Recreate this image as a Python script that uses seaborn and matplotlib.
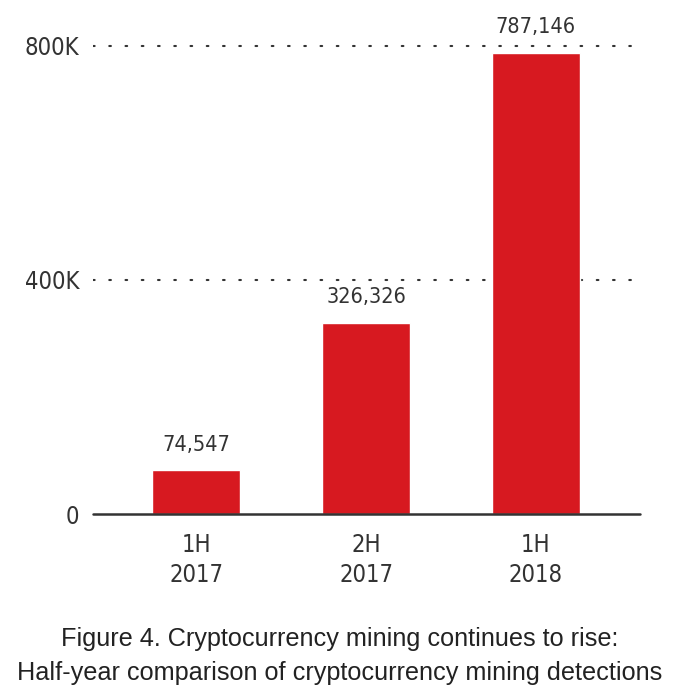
import numpy as np
import pandas as pd
import matplotlib.pyplot as plt
import seaborn as sns

# -------------------------------
# Data
# -------------------------------

periods = ["1H\n2017", "2H\n2017", "1H\n2018"]
detections = [74547, 326326, 787146]
y_ticks = [0, 400000, 800000]
y_tick_labels = ["0", "400K", "800K"]

caption = ("Figure 4. Cryptocurrency mining continues to rise:\n"
           "Half-year comparison of cryptocurrency mining detections")

df = pd.DataFrame({"period": periods, "detections": detections})

# -------------------------------
# Plot
# -------------------------------

sns.set_style("white")
plt.rcParams["font.family"] = ["DejaVu Sans"]
plt.rcParams["font.stretch"] = "condensed"

fig = plt.figure(figsize=(6.8, 6.98), dpi=100)
ax = fig.add_axes([0.137, 0.2636, 0.804, 0.713])

sns.barplot(data=df, x="period", y="detections", color="#d71920",
            saturation=1, width=0.52, ax=ax)

ax.set_xlim(-0.606, 2.612)
ax.set_ylim(0, 850000)

# dotted gridlines
for t in y_ticks[1:]:
    ax.axhline(t, color="#333333", linestyle=(0, (0.8, 7)), linewidth=1.5,
               dash_capstyle="round", zorder=0)
ax.axhline(0, color="#333333", linewidth=1.8, zorder=3, clip_on=False)

for i, v in enumerate(detections):
    ax.text(i, v + 27000, f"{v:,}", ha="center", va="bottom",
            fontsize=15.5, color="#333333")

ax.set_yticks(y_ticks)
ax.set_yticklabels(y_tick_labels, fontsize=17, color="#333333")
ax.tick_params(axis="x", labelsize=17, labelcolor="#333333", length=0, pad=14)
ax.tick_params(axis="y", length=0, pad=10)
for lbl in ax.get_xticklabels():
    lbl.set_linespacing(1.3)

ax.set_xlabel("")
ax.set_ylabel("")
sns.despine(ax=ax, left=True, bottom=True, top=True, right=True)

fig.text(0.5, 0.06, caption, ha="center", va="center", fontsize=18.2,
         color="#222222", linespacing=1.55, stretch="normal",
         family=["Liberation Sans", "DejaVu Sans"])

fig.savefig("out.png", dpi=100)
plt.close()
